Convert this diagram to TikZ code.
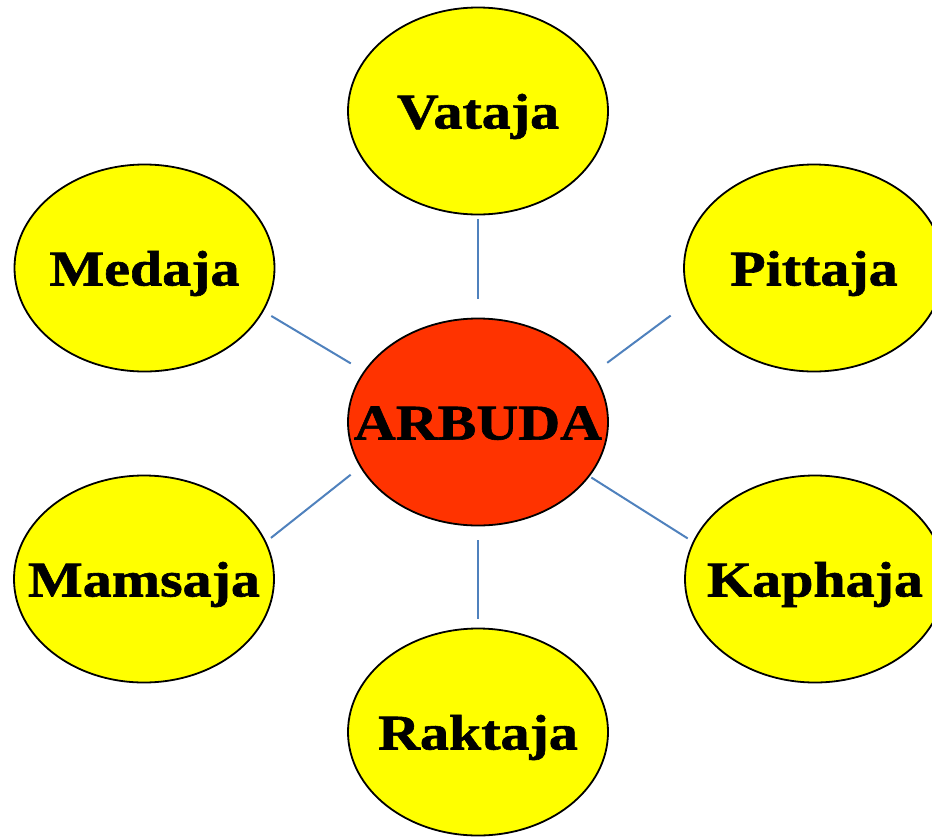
\documentclass[tikz,border=0pt]{standalone}
\usepackage{fontspec}
\newfontfamily\lblfont{Liberation Serif}[FakeStretch=1.16,FakeBold=1.2]
\usetikzlibrary{shapes.geometric}
\definecolor{dosha}{HTML}{FFFF00}
\definecolor{tumour}{HTML}{FF3300}
\definecolor{linkblue}{HTML}{4F81BD}
\begin{document}
\begin{tikzpicture}[x=1pt,y=-1pt,
  blob/.style={ellipse,draw=black,line width=1.8pt,inner ysep=0pt,inner xsep=-40pt,
    minimum width=260pt,minimum height=207pt,
    font=\lblfont\bfseries\fontsize{50}{52}\selectfont,
    text height=35pt,text depth=0pt},
  link/.style={linkblue,line width=2pt}]
\clip (0,0) rectangle (932,836);
\useasboundingbox (0,0) rectangle (932,836);
% centre
\node[blob,fill=tumour] (arbuda) at (478,422) {ARBUDA};
% the six kinds
\node[blob,fill=dosha] (vataja)  at (478,111)   {Vataja};
\node[blob,fill=dosha] (medaja)  at (144.5,268) {Medaja};
\node[blob,fill=dosha] (pittaja) at (814,268)   {Pittaja};
\node[blob,fill=dosha] (mamsaja) at (144,579)   {Mamsaja};
\node[blob,fill=dosha] (kaphaja) at (815,579)   {Kaphaja};
\node[blob,fill=dosha] (raktaja) at (478,732)   {Raktaja};
% spokes, kept clear of the borders
\draw[link,shorten <=4pt,shorten >=19pt] (vataja.-90) -- (arbuda.90);
\draw[link,shorten <=9pt,shorten >=15pt] (medaja.-20) -- (arbuda.156);
\draw[link,shorten <=24pt,shorten >=17pt] (pittaja.195) -- (arbuda.23);
\draw[link,shorten <=6pt,shorten >=12pt] (mamsaja.17) -- (arbuda.201);
\draw[link,shorten <=6pt,shorten >=2pt] (kaphaja.163) -- (arbuda.-26);
\draw[link,shorten <=9pt,shorten >=14pt] (raktaja.90) -- (arbuda.-90);
\end{tikzpicture}
\end{document}
